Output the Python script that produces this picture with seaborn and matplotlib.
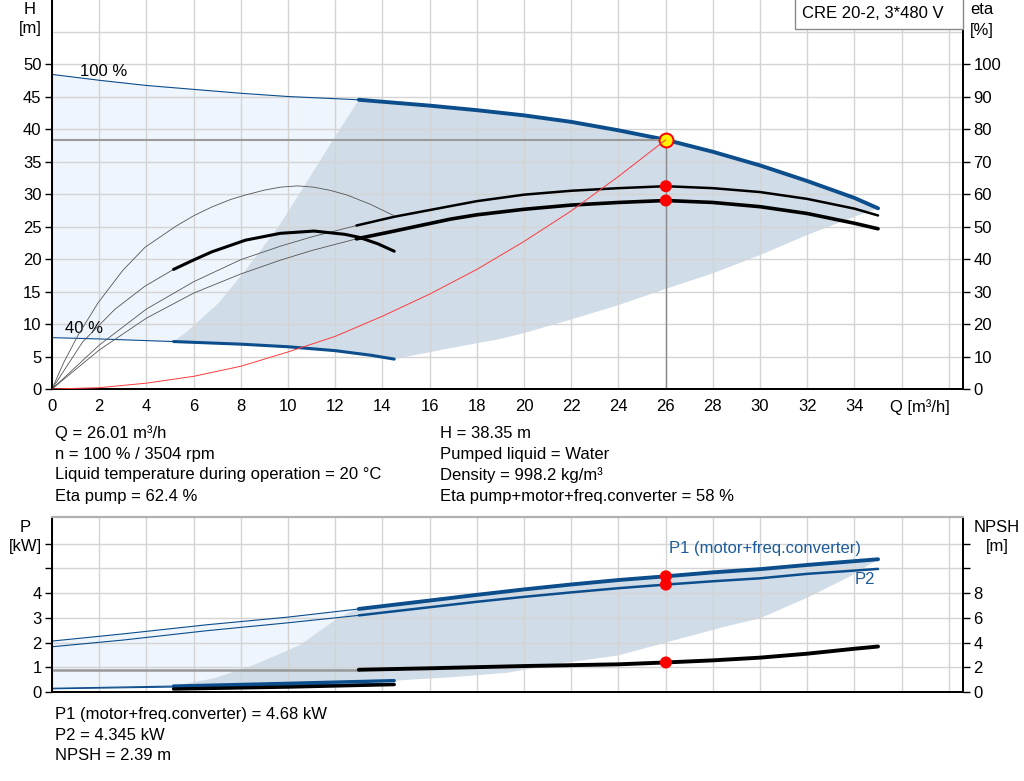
import numpy as np
import matplotlib
matplotlib.use('Agg')
import matplotlib.pyplot as plt
from matplotlib.patches import Rectangle
import seaborn as sns

# ---------------- data ----------------
Q_OP, H_OP = 26.01, 38.35
ETA_PUMP_OP, ETA_TOT_OP = 62.4, 58.0
P1_OP, P2_OP, NPSH_OP = 4.68, 4.345, 2.39

# head curve, 100 % speed (thin up to Q=13, thick after)
q_h100 = [0, 2, 4, 6, 8, 10, 13, 16, 18, 20, 22, 24, 26, 28, 30, 32, 34, 35]
h_h100 = [48.4, 47.5, 46.7, 46.1, 45.5, 45.0, 44.5, 43.6, 42.9, 42.1, 41.1, 39.8, 38.35, 36.5, 34.4, 32.0, 29.4, 27.8]
# head curve, 40 % speed (thin up to Q=5.15, thick after)
q_h40 = [0, 2, 5.15, 8, 10, 12, 13.5, 14.5]
h_h40 = [7.9, 7.7, 7.3, 6.9, 6.5, 5.9, 5.2, 4.6]
# operating-area borders
q_area_left = [5.15, 5.8, 7.05, 8.2, 9.6, 10.7, 11.9, 13]
h_area_left = [7.3, 9.1, 13.2, 18.3, 25.0, 31.3, 38.3, 44.5]
q_area_bot = [14.5, 16.9, 19, 20, 22, 24, 26, 28, 30, 32, 34, 35]
h_area_bot = [4.6, 6.3, 7.7, 8.6, 10.7, 12.9, 15.4, 17.8, 20.6, 23.7, 26.5, 27.8]
# system curve
q_sys = [0, 2, 4, 6, 8, 10, 12, 14, 16, 18, 20, 22, 24, 26.01]
h_sys = [0, 0.2, 0.9, 1.95, 3.5, 5.7, 8.1, 11.2, 14.6, 18.4, 22.7, 27.4, 32.7, 38.35]
# efficiencies at 100 % speed (thin up to Q=12.9)
q_eta = [0, 2, 4, 6, 8, 9.7, 11, 12.9, 14.5, 16.9, 18, 20, 22, 24, 26, 28, 30, 32, 34, 35]
eta_pump = [0, 13.5, 24.6, 33, 39.8, 44, 46.8, 50.3, 53, 56.3, 57.8, 59.8, 61, 61.8, 62.4, 61.8, 60.6, 58.5, 55.5, 53.4]
eta_total = [0, 12, 21.8, 29.5, 35.4, 39.7, 42.6, 46.2, 48.6, 52.3, 53.6, 55.3, 56.6, 57.4, 58, 57.4, 56.1, 54.0, 51.0, 49.3]
# efficiencies at 40 % speed
q_eta40p = [0, 0.5, 1.1, 1.95, 3.0, 3.94, 5.23, 6.0, 6.77, 7.56, 8.2, 9.0, 9.67, 10.4, 11.1, 11.8, 12.5, 13.5, 14.5]
eta40_pump = [0, 8.2, 16.5, 26.5, 36.5, 43.6, 50, 53.3, 56, 58.3, 59.7, 61.2, 62.1, 62.5, 62.1, 61.1, 59.7, 56.8, 53.3]
q_eta40t = [0, 1.3, 2.66, 3.93, 5.15, 6, 6.77, 8.2, 9.67, 11.1, 12.4, 13, 13.8, 14.5]
eta40_total = [0, 14.5, 24.5, 31.6, 36.8, 39.7, 42.2, 45.8, 47.9, 48.6, 47.6, 46.7, 44.7, 42.4]

# power curves, 100 % speed (thin up to Q=13)
q_p100 = [0, 3, 6.56, 10, 13, 16, 18, 20, 22, 24, 26, 28, 30, 32, 35]
p1_100 = [2.06, 2.35, 2.72, 3.03, 3.36, 3.7, 3.93, 4.15, 4.35, 4.53, 4.68, 4.84, 4.97, 5.14, 5.37]
p2_100 = [1.83, 2.1, 2.48, 2.8, 3.1, 3.43, 3.65, 3.85, 4.03, 4.2, 4.345, 4.48, 4.6, 4.78, 4.98]
# power curves, 40 % speed
q_p40 = [0, 5.15, 10, 14.5]
p1_40 = [0.15, 0.24, 0.35, 0.46]
p2_40 = [0.13, 0.2, 0.27, 0.33]
# power operating-area borders
q_parea_left = [5.15, 6.84, 8.54, 10.5, 11.8, 12.5, 13]
p_parea_left = [0.24, 0.55, 1.09, 1.9, 2.78, 3.18, 3.36]
q_parea_bot = [14.5, 17, 19.3, 21.5, 24, 26, 28.5, 30, 32.1, 33.8, 35]
p_parea_bot = [0.46, 0.6, 0.78, 1.15, 1.48, 2.0, 2.64, 2.98, 3.86, 4.67, 5.37]
# NPSH (thin grey up to Q=13)
q_npsh = [0, 13, 16, 20, 24, 26, 28, 30, 32, 34, 35]
npsh = [1.8, 1.8, 1.92, 2.1, 2.24, 2.39, 2.56, 2.78, 3.1, 3.5, 3.68]
q_npsh40 = [5.15, 10, 14.5]
npsh40 = [0.24, 0.4, 0.6]

h_ticks = [0, 5, 10, 15, 20, 25, 30, 35, 40, 45, 50]
eta_ticks = [0, 10, 20, 30, 40, 50, 60, 70, 80, 90, 100]
q_ticks = list(range(0, 39, 2))
p_ticks = [0, 1, 2, 3, 4, 5, 6]
npsh_ticks = [0, 2, 4, 6, 8, 10, 12]

# ---------------- style ----------------
sns.set_theme(style='white')
plt.rcParams['font.family'] = ['Liberation Sans', 'DejaVu Sans']
plt.rcParams['text.color'] = 'black'
plt.rcParams['axes.labelcolor'] = 'black'
FS = 12
plt.rcParams['font.size'] = FS

BLUE = '#0C4D8C'
LBLUE = '#1E5C99'
DARK_FILL = '#D0DCE7'
LIGHT_FILL = '#EEF5FD'
GRID = '#D4D4D4'
THIN = '#555555'

W, HP = 1024, 781
def fx(px): return px / W
def fy(py): return 1 - py / HP

fig = plt.figure(figsize=(10.24, 7.81), dpi=100)

def style_axes(a, top_visible=False):
    for s in ['left', 'right', 'bottom']:
        a.spines[s].set_color('black')
        a.spines[s].set_linewidth(1.3)
    a.spines['top'].set_visible(top_visible)
    a.tick_params(direction='out', length=5, width=1, colors='black', labelsize=FS, pad=2.5)

def seg(x, y, a, color, lw, **kw):
    sns.lineplot(x=list(x), y=list(y), ax=a, color=color, linewidth=lw, estimator=None,
                 sort=False, legend=False, **kw)

# ================= top chart =================
ax = fig.add_axes([fx(52), fy(389), fx(963) - fx(52), 389 / HP])
ax2 = ax.twinx()
style_axes(ax)
style_axes(ax2)
ax.set_xlim(0, 38.6)
ax.set_ylim(0, 59.85)
ax2.set_ylim(0, 119.7)

ax.set_xticks(q_ticks)
ax.set_xticklabels([str(q) if q <= 34 else '' for q in q_ticks])
ax.set_yticks(h_ticks)
ax.set_yticks([55], minor=True)
ax.tick_params(axis='y', which='minor', length=0)
ax2.set_yticks(eta_ticks)
ax.grid(True, which='both', color=GRID, linewidth=1)
ax.set_axisbelow('line')
ax2.grid(False)

i13 = q_h100.index(13)
i5 = q_h40.index(5.15)
# light area
lx = q_h100[:i13 + 1] + q_area_left[::-1] + q_h40[:i5 + 1][::-1]
ly = h_h100[:i13 + 1] + h_area_left[::-1] + h_h40[:i5 + 1][::-1]
ax.fill(lx, ly, color=LIGHT_FILL, lw=0, zorder=1)
# dark area
dx = q_area_left + q_h100[i13:] + q_area_bot[::-1] + q_h40[i5:][::-1]
dy = h_area_left + h_h100[i13:] + h_area_bot[::-1] + h_h40[i5:][::-1]
ax.fill(dx, dy, color=DARK_FILL, lw=0, zorder=1)

# head curves
seg(q_h100[:i13 + 1], h_h100[:i13 + 1], ax, BLUE, 0.8)
seg(q_h100[i13:], h_h100[i13:], ax, BLUE, 2.8)
seg(q_h40[:i5 + 1], h_h40[:i5 + 1], ax, BLUE, 0.8)
seg(q_h40[i5:], h_h40[i5:], ax, BLUE, 2.2)

# operating lines
ax.plot([0, Q_OP], [H_OP, H_OP], color='#9A9A9A', lw=1.5, zorder=2)
ax.plot([Q_OP, Q_OP], [0, H_OP], color='#8A8A8A', lw=1.0, zorder=2)

# efficiency curves
ie = q_eta.index(12.9)
seg(q_eta[:ie + 1], eta_pump[:ie + 1], ax2, THIN, 0.6)
seg(q_eta[ie:], eta_pump[ie:], ax2, 'black', 1.8)
seg(q_eta[:ie + 1], eta_total[:ie + 1], ax2, THIN, 0.6)
seg(q_eta[ie:], eta_total[ie:], ax2, 'black', 2.6)
seg(q_eta40p, eta40_pump, ax2, THIN, 0.6)
it = q_eta40t.index(5.15)
seg(q_eta40t[:it + 1], eta40_total[:it + 1], ax2, THIN, 0.6)
seg(q_eta40t[it:], eta40_total[it:], ax2, 'black', 2.2)

sns.scatterplot(x=[Q_OP, Q_OP], y=[ETA_PUMP_OP, ETA_TOT_OP], ax=ax2, color='red',
                s=75, edgecolor='none', zorder=5, legend=False)
ax2.plot([Q_OP], [H_OP], marker='o', ms=10, mfc='#FFF200', mec='red', mew=1.4,
         transform=ax.transData, zorder=6)
ax2.plot(q_sys, h_sys, color='#FF3B3B', lw=0.7, transform=ax.transData, zorder=7)

ax.text(1.2, 48.9, '100 %', fontsize=FS, ha='left', va='center')
ax.text(0.55, 9.3, '40 %', fontsize=FS, ha='left', va='center')

# ================= bottom chart =================
bx = fig.add_axes([fx(52), fy(692), fx(963) - fx(52), (692 - 517) / HP])
bx2 = bx.twinx()
style_axes(bx, top_visible=True)
style_axes(bx2, top_visible=True)
for a in (bx, bx2):
    a.spines['top'].set_color('#B0B0B0')
    a.spines['top'].set_linewidth(1.5)
bx.set_xlim(0, 38.6)
bx.set_ylim(0, 7.08)
bx2.set_ylim(0, 14.16)
bx.set_xticks(q_ticks)
bx.set_xticklabels([])
bx.tick_params(axis='x', length=0)
bx.set_yticks(p_ticks)
bx.set_yticklabels([str(p) if p <= 4 else '' for p in p_ticks])
bx2.set_yticks(npsh_ticks)
bx2.set_yticklabels([str(n) if n <= 8 else '' for n in npsh_ticks])
bx.grid(True, color=GRID, linewidth=1)
bx.set_axisbelow('line')
bx2.grid(False)

j13 = q_p100.index(13)
j5 = q_p40.index(5.15)
plx = q_p100[:j13 + 1] + q_parea_left[::-1] + q_p40[:j5 + 1][::-1]
ply = p1_100[:j13 + 1] + p_parea_left[::-1] + p1_40[:j5 + 1][::-1]
bx.fill(plx, ply, color=LIGHT_FILL, lw=0, zorder=1)
pdx = q_parea_left + q_p100[j13:] + q_parea_bot[::-1] + q_p40[j5:][::-1]
pdy = p_parea_left + p1_100[j13:] + p_parea_bot[::-1] + p1_40[j5:][::-1]
bx.fill(pdx, pdy, color=DARK_FILL, lw=0, zorder=1)

seg(q_p100[:j13 + 1], p1_100[:j13 + 1], bx, BLUE, 0.8)
seg(q_p100[j13:], p1_100[j13:], bx, BLUE, 2.8)
seg(q_p100[:j13 + 1], p2_100[:j13 + 1], bx, BLUE, 0.8)
seg(q_p100[j13:], p2_100[j13:], bx, BLUE, 1.8)
seg(q_p40[:j5 + 1], p1_40[:j5 + 1], bx, BLUE, 0.8)
seg(q_p40[j5:], p1_40[j5:], bx, BLUE, 2.4)
seg(q_p40[:j5 + 1], p2_40[:j5 + 1], bx, BLUE, 0.8)
seg(q_p40[j5:], p2_40[j5:], bx, BLUE, 1.6)

seg(q_npsh[:2], npsh[:2], bx2, '#999999', 1.8)
seg(q_npsh[1:], npsh[1:], bx2, 'black', 2.8)
seg(q_npsh40, npsh40, bx2, 'black', 2.4)

sns.scatterplot(x=[Q_OP, Q_OP], y=[P1_OP, P2_OP], ax=bx, color='red', s=75,
                edgecolor='none', zorder=5, legend=False)
sns.scatterplot(x=[Q_OP], y=[NPSH_OP], ax=bx2, color='red', s=75,
                edgecolor='none', zorder=5, legend=False)

bx.text(26.15, 5.82, 'P1 (motor+freq.converter)', color=LBLUE, fontsize=FS,
        ha='left', va='center')
bx.text(34.0, 4.55, 'P2', color=LBLUE, fontsize=FS, ha='left', va='center')

# ================= figure texts =================
def t(px, py, s, ha='left', **kw):
    fig.text(fx(px), fy(py), s, ha=ha, va='center', fontsize=FS, color='black', **kw)

t(30, 9, 'H', ha='center')
t(30, 29, '[m]', ha='center')
t(982, 10, 'eta', ha='center')
t(982, 30, '[%]', ha='center')
t(920, 407, 'Q [m³/h]', ha='center')

t(55, 433, 'Q = 26.01 m³/h')
t(55, 454, 'n = 100 % / 3504 rpm')
t(55, 475, 'Liquid temperature during operation = 20 °C')
t(55, 497, 'Eta pump = 62.4 %')
t(440, 433, 'H = 38.35 m')
t(440, 454, 'Pumped liquid = Water')
t(440, 475, 'Density = 998.2 kg/m³')
t(440, 497, 'Eta pump+motor+freq.converter = 58 %')

t(25, 527, 'P', ha='center')
t(25, 547, '[kW]', ha='center')
t(997, 527, 'NPSH', ha='center')
t(997, 547, '[m]', ha='center')

t(55, 714, 'P1 (motor+freq.converter) = 4.68 kW')
t(55, 735, 'P2 = 4.345 kW')
t(55, 756, 'NPSH = 2.39 m')

box = Rectangle((fx(795), fy(29)), fx(963) - fx(795), 31 / HP, transform=fig.transFigure,
                facecolor='white', edgecolor='#8A8A8A', lw=1.0, zorder=10)
fig.add_artist(box)
fig.text(fx(802), fy(14), 'CRE 20-2, 3*480 V', ha='left', va='center', fontsize=FS,
         color='black', zorder=11)

fig.savefig('out.png', dpi=100)
